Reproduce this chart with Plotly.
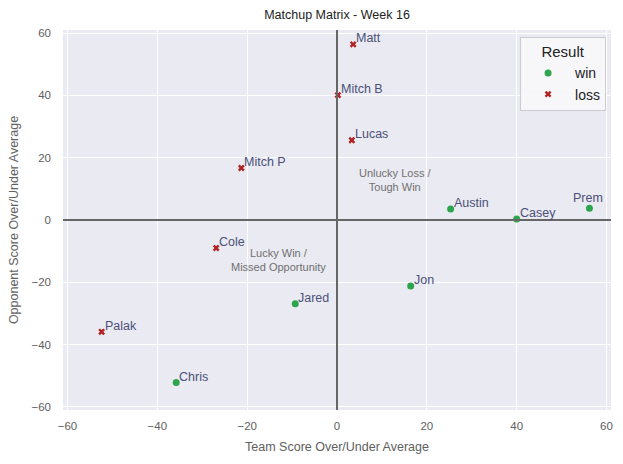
import plotly.graph_objects as go

names = ["Matt", "Mitch B", "Lucas", "Mitch P", "Austin", "Casey", "Prem",
         "Cole", "Jon", "Jared", "Palak", "Chris"]
team_diff = [3.6, 0.2, 3.3, -21.3, 25.3, 40.0, 56.2, -26.9, 16.4, -9.3, -52.4, -35.8]
opp_diff = [56.4, 40.1, 25.6, 16.7, 3.5, 0.3, 3.8, -9.0, -21.2, -26.9, -35.9, -52.2]
results = ["loss", "loss", "loss", "loss", "win", "win", "win",
           "loss", "win", "win", "loss", "win"]

label_color = "#4a5078"
fig = go.Figure()

styles = {"win": dict(symbol="circle", color="#2ca54c", size=7),
          "loss": dict(symbol="x", color="#b22222", size=6)}
for res in ["win", "loss"]:
    xs = [x for x, r in zip(team_diff, results) if r == res]
    ys = [y for y, r in zip(opp_diff, results) if r == res]
    fig.add_trace(go.Scatter(x=xs, y=ys, mode="markers", name=res,
                             marker=dict(symbol=styles[res]["symbol"], color=styles[res]["color"],
                                         size=styles[res]["size"], line=dict(width=0))))

for n, x, y in zip(names, team_diff, opp_diff):
    if n == "Prem":
        fig.add_annotation(x=x, y=y, text=n, showarrow=False, xanchor="center", yanchor="bottom",
                           xshift=-1, yshift=1, font=dict(size=12.5, color=label_color))
    else:
        fig.add_annotation(x=x, y=y, text=n, showarrow=False, xanchor="left", yanchor="bottom",
                           xshift=1, yshift=-3, font=dict(size=12.5, color=label_color))

fig.add_annotation(x=13, y=13, text="Unlucky Loss /<br>Tough Win", showarrow=False,
                   font=dict(size=11, color="#707070"), align="center")
fig.add_annotation(x=-13, y=-13, text="Lucky Win /<br>Missed Opportunity", showarrow=False,
                   font=dict(size=11, color="#707070"), align="center")

fig.add_shape(type="line", x0=0, x1=0, y0=0, y1=1, xref="x", yref="paper",
              line=dict(color="#666666", width=2))
fig.add_shape(type="line", x0=0, x1=1, y0=0, y1=0, xref="paper", yref="y",
              line=dict(color="#666666", width=2))

axis_common = dict(range=[-61, 61], tickvals=[-60, -40, -20, 0, 20, 40, 60],
                   ticktext=["\u221260", "\u221240", "\u221220", "0", "20", "40", "60"],
                   showgrid=True, gridcolor="white", gridwidth=1.3, zeroline=False,
                   tickfont=dict(size=11.5, color="#606060"), showline=False, ticks="")

fig.update_layout(
    width=623, height=464,
    paper_bgcolor="white", plot_bgcolor="#EAEAF2",
    font=dict(family="Liberation Sans, Arial, sans-serif"),
    title=dict(text="Matchup Matrix - Week 16", x=0.541, xanchor="center", y=0.968, yanchor="middle",
               font=dict(size=12.5, color="#222222")),
    margin=dict(l=63, r=10, t=30, b=54),
    xaxis=dict(**axis_common, ticklabelstandoff=7,
               title=dict(text="Team Score Over/Under Average",
                          font=dict(size=12.5, color="#606060"), standoff=11)),
    yaxis=dict(**axis_common, ticklabelstandoff=11,
               title=dict(text="Opponent Score Over/Under Average",
                          font=dict(size=12.5, color="#606060"), standoff=10)),
    legend=dict(title=dict(text="Result", font=dict(size=15, color="#222222"), side="top center"),
                x=0.991, y=0.982, xanchor="right", yanchor="top",
                bgcolor="rgba(248,248,251,0.9)", bordercolor="#cccccc", borderwidth=1,
                font=dict(size=14, color="#222222"), itemwidth=44, tracegroupgap=0),
    showlegend=True,
)

fig.write_html("out.html")
